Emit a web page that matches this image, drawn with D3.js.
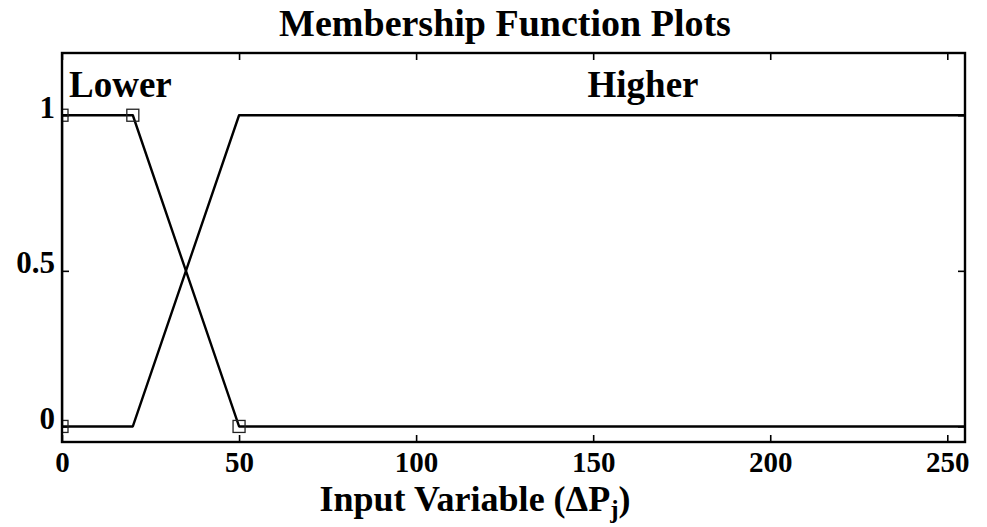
<!DOCTYPE html>
<html>
<head>
<meta charset="utf-8">
<script src="https://cdn.jsdelivr.net/npm/d3@7/dist/d3.min.js"></script>
<style>
  html, body { margin: 0; padding: 0; background: #fff; }
  svg { display: block; }
  text { font-family: "Liberation Serif", "Times New Roman", serif; font-weight: bold; fill: #000; }
</style>
</head>
<body>
<svg id="chart" width="987" height="527"></svg>
<script>
// Input range and axis ticks
const xRange = [0, 255];
const yRange = [-0.05, 1.2];
const xTicks = [0, 50, 100, 150, 200, 250];
const yTicks = [0, 0.5, 1];
const yTickLabels = ["0", "0.5", "1"];

// Membership functions (vertices of each trapezoid)
const mfNames = ["Lower", "Higher"];
const lowerX = [0, 0, 20, 50, 255];
const lowerY = [0, 1, 1, 0, 0];
const higherX = [0, 20, 50, 255];
const higherY = [0, 0, 1, 1];

// Parameter handles of the selected function
const handleX = [0, 0, 20, 50];
const handleY = [0, 1, 1, 0];

const svg = d3.select("#chart");
const m = { left: 62, right: 22, top: 53, bottom: 85 };
const W = 987, H = 527;
const pw = W - m.left - m.right, ph = H - m.top - m.bottom;

const x = d3.scaleLinear().domain(xRange).range([m.left, m.left + pw]);
const y = d3.scaleLinear().domain(yRange).range([m.top + ph, m.top]);

svg.append("defs").append("clipPath").attr("id", "plotClip")
  .append("rect").attr("x", m.left).attr("y", m.top).attr("width", pw).attr("height", ph);

// Title
svg.append("text").attr("x", 505).attr("y", 36).attr("text-anchor", "middle")
  .style("font-size", "38px").text("Membership Function Plots");

// Axes with inward ticks
const tickLen = 7;
const bottomAxis = d3.axisBottom(x).tickValues(xTicks).tickSizeInner(-tickLen).tickSizeOuter(0).tickPadding(9);
const topAxis = d3.axisTop(x).tickValues(xTicks).tickSizeInner(-tickLen).tickSizeOuter(0).tickFormat("");
const leftAxis = d3.axisLeft(y).tickValues(yTicks).tickSizeInner(-tickLen).tickSizeOuter(0).tickPadding(7)
  .tickFormat((d, i) => yTickLabels[i]);
const rightAxis = d3.axisRight(y).tickValues(yTicks).tickSizeInner(-tickLen).tickSizeOuter(0).tickFormat("");

function styleAxis(g) {
  g.select(".domain").remove();
  g.selectAll(".tick line").attr("stroke", "#000").attr("stroke-width", 1.6);
  g.selectAll(".tick text").style("font-size", "29px").attr("fill", "#000");
}

svg.append("g").attr("transform", `translate(0,${m.top + ph})`).call(bottomAxis).call(styleAxis);
svg.append("g").attr("transform", `translate(0,${m.top})`).call(topAxis).call(styleAxis);
const gl = svg.append("g").attr("transform", `translate(${m.left},0)`).call(leftAxis).call(styleAxis);
gl.selectAll(".tick text").style("font-size", "31px").attr("dy", "0.06em");
svg.append("g").attr("transform", `translate(${m.left + pw},0)`).call(rightAxis).call(styleAxis);

// Curves
const line = d3.line().x(d => x(d[0])).y(d => y(d[1]));
const plot = svg.append("g").attr("clip-path", "url(#plotClip)");
plot.append("path").datum(d3.zip(lowerX, lowerY)).attr("d", line)
  .attr("fill", "none").attr("stroke", "#000").attr("stroke-width", 2.4).attr("stroke-linejoin", "round");
plot.append("path").datum(d3.zip(higherX, higherY)).attr("d", line)
  .attr("fill", "none").attr("stroke", "#000").attr("stroke-width", 2.4).attr("stroke-linejoin", "round");

// Handles
const hs = 12;
plot.selectAll("rect.handle").data(d3.zip(handleX, handleY)).join("rect")
  .attr("class", "handle")
  .attr("x", d => x(d[0]) - hs / 2).attr("y", d => y(d[1]) - hs / 2)
  .attr("width", hs).attr("height", hs)
  .attr("fill", "none").attr("stroke", "#222").attr("stroke-width", 1.3);

// Frame
svg.append("rect").attr("x", m.left).attr("y", m.top).attr("width", pw).attr("height", ph)
  .attr("fill", "none").attr("stroke", "#000").attr("stroke-width", 2.4);

// Function names
svg.append("text").attr("x", 69).attr("y", 97).style("font-size", "37px").text(mfNames[0]);
svg.append("text").attr("x", 643).attr("y", 97).attr("text-anchor", "middle").style("font-size", "37px").text(mfNames[1]);

// X label
const xl = svg.append("text").attr("x", 475).attr("y", 511).attr("text-anchor", "middle").style("font-size", "36px");
xl.append("tspan").text("Input Variable (ΔP");
xl.append("tspan").attr("dy", 7).style("font-size", "25px").text("j");
xl.append("tspan").attr("dy", -7).text(")");
</script>
</body>
</html>
